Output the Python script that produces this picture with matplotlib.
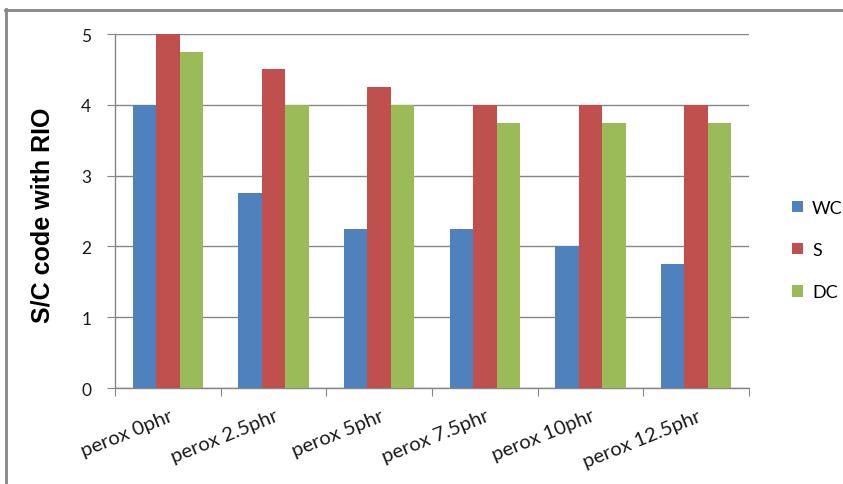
import matplotlib
matplotlib.use("Agg")
import matplotlib.pyplot as plt
from matplotlib.lines import Line2D
from matplotlib.patches import Patch
import numpy as np

categories = ["perox 0phr", "perox 2.5phr", "perox 5phr", "perox 7.5phr", "perox 10phr", "perox 12.5phr"]
wc = [4, 2.75, 2.25, 2.25, 2, 1.75]
s = [5, 4.5, 4.25, 4, 4, 4]
dc = [4.75, 4, 4, 3.75, 3.75, 3.75]
series_names = ["WC", "S", "DC"]
colors = ["#4F81BD", "#C0504D", "#9BBB59"]

W, H = 843, 485
fig = plt.figure(figsize=(W / 100, H / 100), dpi=100)
fig.patch.set_facecolor("white")

# plot area in pixel coordinates
left, right, top, bottom = 115, 749, 35, 389
ax = fig.add_axes([left / W, 1 - bottom / H, (right - left) / W, (bottom - top) / H])

x = np.arange(len(categories))
bw = 1 / 4.5
for i, (vals, c) in enumerate(zip([wc, s, dc], colors)):
    ax.bar(x + (i - 1) * bw, vals, width=bw, color=c, edgecolor="none", zorder=3)

ax.set_xlim(-0.5, len(categories) - 0.5)
ax.set_ylim(0, 5)
ax.set_yticks(range(6))
ax.yaxis.grid(True, color="#868686", linewidth=1, zorder=0)
for sp in ["top", "right"]:
    ax.spines[sp].set_visible(False)
for sp in ["left", "bottom"]:
    ax.spines[sp].set_color("#868686")
    ax.spines[sp].set_linewidth(1)

tickfont = dict(family="Lato", size=12.5, color="#1a1a1a")
ax.set_yticklabels([str(v) for v in range(6)], **tickfont)
ax.tick_params(axis="y", length=6, color="#868686", pad=11)

# category boundaries carry the x tick marks
ax.set_xticks(np.arange(-0.5, len(categories)), minor=False)
ax.set_xticklabels([])
ax.tick_params(axis="x", length=5.5, color="#868686")
for xi, lab in zip(x, categories):
    ax.annotate(lab, xy=(xi, 0), xycoords=("data", "axes fraction"),
                xytext=(0.5, -13.5), textcoords="offset points",
                rotation=22, ha="right", va="top", rotation_mode="anchor",
                family="Lato", size=14.5, color="#1a1a1a")

fig.text(43 / W, 1 - 215 / H, "S/C code with RIO", rotation=90,
         ha="center", va="center", family="Liberation Sans",
         fontweight="bold", fontsize=18, color="black")

# legend
handles = [Patch(facecolor=c, edgecolor="none") for c in colors]
leg = fig.legend(handles, series_names, loc="center left",
                 bbox_to_anchor=(776 / W, 1 - 251 / H), frameon=False,
                 prop=dict(family="Lato", size=13),
                 handlelength=0.6, handleheight=0.6, handletextpad=0.5,
                 labelspacing=1.45)

# outer chart border
fig.add_artist(Line2D([5.5 / W, 5.5 / W], [0, 1 - 10 / H],
                      transform=fig.transFigure, color="#868686", linewidth=2))
fig.add_artist(Line2D([5 / W, 1], [1 - 10.5 / H, 1 - 10.5 / H],
                      transform=fig.transFigure, color="#868686", linewidth=2))

fig.savefig("out.png", dpi=100, facecolor="white")
